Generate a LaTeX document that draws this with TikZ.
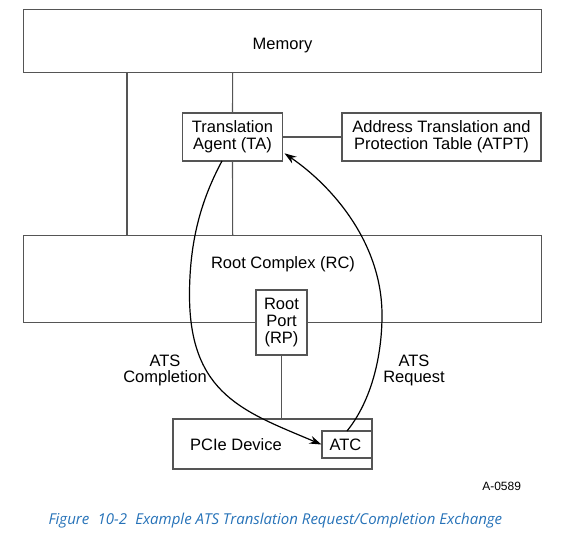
\documentclass[tikz,border=0pt]{standalone}
\usepackage{fontspec}
\setmainfont{Liberation Sans}
\newfontfamily\capfont{Open Sans}
\usetikzlibrary{arrows.meta}
\definecolor{linegray}{HTML}{555555}
\definecolor{capblue}{HTML}{2672B8}
\begin{document}
\begin{tikzpicture}[x=1pt,y=-1pt,
  box/.style={draw=linegray,line width=1.1pt,fill=white,inner sep=0pt},
  lbl/.style={font=\fontsize{16.5}{16.8}\selectfont,align=center,text=black},
  wire/.style={draw=linegray,line width=1.1pt},
  flow/.style={draw=black,line width=1.2pt,-{Stealth[length=12pt,width=8pt]}}]
\useasboundingbox (0,0) rectangle (572,533);
% boxes
\node[box,minimum width=518pt,minimum height=63pt] (mem) at (282.5,40.7) {};
\node[lbl,anchor=base] (memt) at (282.5,49.3) {Memory};
\node[box,minimum width=518pt,minimum height=87pt] (rc) at (282.5,279) {};
\node[lbl,anchor=base] (rct) at (283,268.3) {Root Complex (RC)};
\node[box,minimum width=100pt,minimum height=48pt,lbl] (ta) at (232.5,137) {Translation\\Agent (TA)};
\node[box,minimum width=199pt,minimum height=48pt,lbl] (atpt) at (441.5,137) {Address Translation and\\Protection Table (ATPT)};
\node[box,minimum width=51pt,minimum height=65pt,lbl] (rp) at (281.5,322.5) {Root\\Port\\(RP)};
\node[box,minimum width=199pt,minimum height=50pt] (dev) at (272.5,444) {};
\node[lbl,anchor=base] (devt) at (236,450) {PCIe Device};
\node[box,minimum width=50pt,minimum height=27pt] (atc) at (347,444.5) {};
\node[lbl,anchor=base] (atct) at (345.5,450) {ATC};
% wires
\coordinate (m1) at (127,72.2);
\coordinate (r1) at (127,235.5);
\coordinate (m2) at (232.7,72.2);
\coordinate (r2) at (232.7,235.5);
\draw[wire] (m1) -- (r1);
\draw[wire] (m2) -- (ta.north);
\draw[wire] (ta.south) -- (r2);
\draw[wire] (ta.east) -- (atpt.west);
\draw[wire] (rp.south) -- (dev.north -| rp.south);
% flows
\coordinate (cs) at (222,161);
\coordinate (cm) at (189.5,295);
\draw[flow] (cs) .. controls (201.6,199) and (189.5,240) .. (cm)
  .. controls (189.5,395) and (245,412) .. (atc.west);
\coordinate (rs) at (347,431);
\coordinate (rm) at (382,315);
\coordinate (te) at (284.5,153.3);
\draw[flow] (rs) .. controls (372,400) and (382,355) .. (rm)
  .. controls (382,245) and (335,188) .. (te);
% labels
\node[lbl] (lc) at (165,370.4) {ATS\\Completion};
\node[lbl] (lr) at (414,370.4) {ATS\\Request};
\node[font=\fontsize{12}{13}\selectfont,anchor=base east] (id) at (524.5,490.7) {A-0589};
\node[font=\capfont\itshape\fontsize{15}{17}\selectfont,text=capblue,anchor=base west] (cap) at (45,524)
  {Figure\hspace{0.55em}10-2\hspace{0.55em}Example ATS Translation Request/Completion Exchange};
\end{tikzpicture}
\end{document}
